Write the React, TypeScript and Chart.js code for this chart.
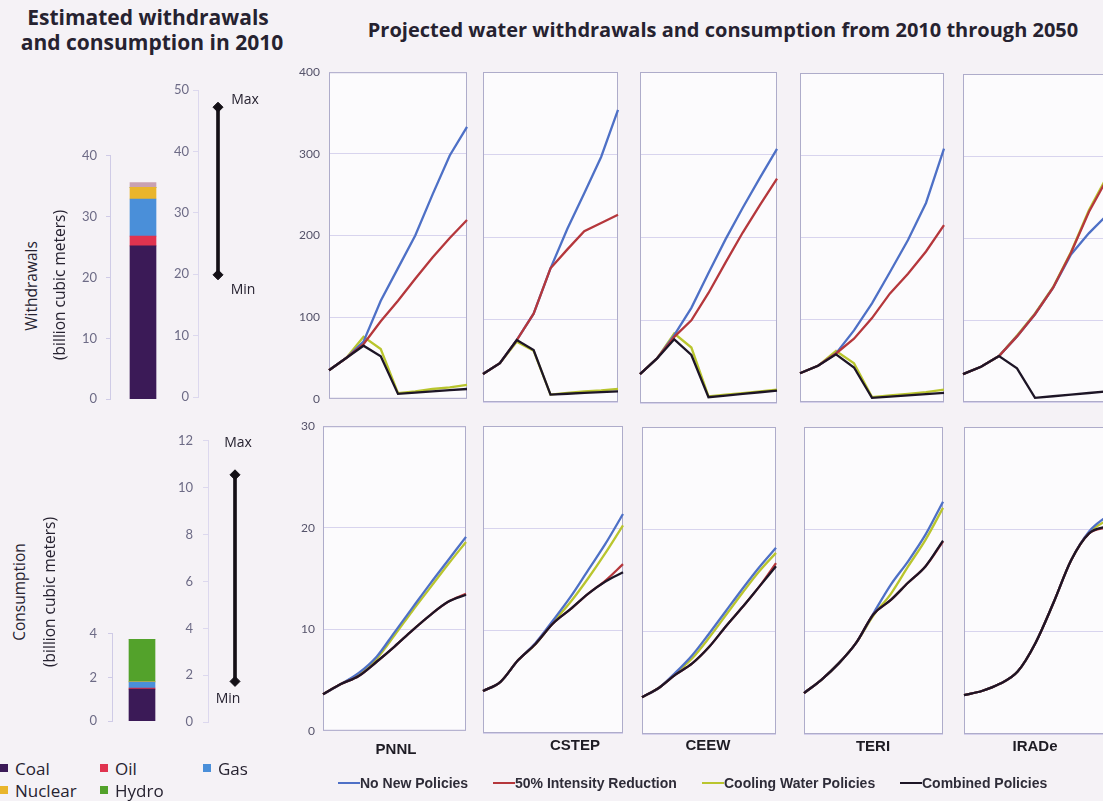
import React, { useEffect, useRef } from "react";
import { Chart, registerables } from "chart.js";

Chart.register(...registerables);

// ---------- DATA ----------
const years = ["2010", "2015", "2020", "2025", "2030", "2035", "2040", "2045", "2050"];
const models = ["PNNL", "CSTEP", "CEEW", "TERI", "IRADe"];
const scenarios = ["No New Policies", "50% Intensity Reduction", "Cooling Water Policies", "Combined Policies"];

// Withdrawals (billion m3), rows = models in the order above
const withdrawalNoNew = [
  [35, 50, 70, 120, 160, 200, 250, 298, 333],
  [34, 47, 75, 107, 162, 210, 253, 297, 354],
  [35, 54, 82, 115, 157, 198, 236, 272, 307],
  [35, 44, 59, 87, 120, 158, 197, 242, 308],
  [34, 43, 56, 80, 107, 139, 180, 206, 228],
];
const withdrawalIntensity = [
  [35, 50, 67, 95, 120, 147, 173, 197, 219],
  [34, 47, 75, 107, 162, 185, 207, 217, 227],
  [35, 54, 80, 100, 133, 170, 206, 239, 271],
  [35, 44, 59, 77, 102, 132, 156, 183, 215],
  [34, 43, 56, 80, 107, 139, 182, 232, 272],
];
const withdrawalCooling = [
  [35, 50, 76, 61, 7, 9, 12, 14, 17],
  [34, 47, 73, 62, 9, 11, 13, 14, 16],
  [35, 54, 84, 67, 8, 10, 12, 14, 16],
  [35, 44, 62, 47, 6, 8, 10, 12, 15],
  [34, 43, 56, 81, 108, 140, 183, 234, 275],
];
const withdrawalCombined = [
  [35, 50, 65, 52, 6, 7.5, 9, 10.5, 12],
  [34, 47, 75, 63, 9, 10, 11, 12, 13],
  [35, 54, 77, 58, 7, 9, 11, 13, 15],
  [35, 44, 58, 42, 5, 6.5, 8, 9.5, 11],
  [34, 43, 56, 41, 5, 7, 9, 11, 13],
];

// Consumption (billion m3)
const consumptionNoNew = [
  [3.6, 4.6, 5.7, 7.3, 9.7, 12.1, 14.5, 16.8, 19.1],
  [4.1, 5.0, 7.1, 8.8, 11.0, 13.3, 15.9, 18.5, 21.4],
  [3.6, 4.5, 6.0, 7.7, 9.8, 12.0, 14.2, 16.3, 18.2],
  [4.0, 5.3, 6.9, 8.9, 11.8, 14.6, 16.9, 19.5, 22.7],
  [3.8, 4.2, 4.9, 6.1, 8.9, 12.8, 17.0, 19.8, 21.3],
];
const consumptionIntensity = [
  [3.6, 4.6, 5.4, 6.8, 8.3, 9.9, 11.4, 12.7, 13.5],
  [4.1, 5.0, 7.1, 8.7, 10.7, 12.1, 13.6, 14.9, 16.5],
  [3.6, 4.5, 5.8, 6.9, 8.5, 10.5, 12.4, 14.4, 16.7],
  [4.0, 5.3, 6.9, 8.9, 11.7, 13.1, 14.8, 16.4, 18.8],
  [3.8, 4.2, 4.9, 6.1, 8.9, 12.8, 17.0, 19.6, 20.2],
];
const consumptionCooling = [
  [3.6, 4.6, 5.6, 7.1, 9.4, 11.8, 14.1, 16.4, 18.6],
  [4.1, 5.0, 7.1, 8.7, 10.8, 12.8, 15.1, 17.6, 20.3],
  [3.6, 4.5, 5.9, 7.4, 9.4, 11.6, 13.8, 15.9, 17.7],
  [4.0, 5.3, 6.9, 8.9, 11.6, 13.7, 16.4, 19.0, 22.1],
  [3.8, 4.2, 4.9, 6.1, 8.9, 12.8, 17.0, 19.7, 20.9],
];
const consumptionCombined = [
  [3.6, 4.6, 5.4, 6.8, 8.3, 9.9, 11.4, 12.7, 13.4],
  [4.1, 5.0, 7.1, 8.7, 10.7, 12.1, 13.6, 14.8, 15.7],
  [3.6, 4.5, 5.8, 6.9, 8.5, 10.5, 12.4, 14.4, 16.4],
  [4.0, 5.3, 6.9, 8.9, 11.7, 13.1, 14.8, 16.4, 18.9],
  [3.8, 4.2, 4.9, 6.1, 8.9, 12.8, 17.0, 19.6, 20.3],
];

// 2010 estimates by fuel
const barSegments = ["Coal", "Oil", "Gas", "Nuclear", "Hydro", "Other"];
const withdrawals2010 = [25.2, 1.6, 6.1, 1.9, 0, 0.8];
const consumption2010 = [1.47, 0.05, 0.27, 0.02, 1.94, 0];
const withdrawalRange = [19.9, 47.2]; // min, max
const consumptionRange = [1.74, 10.55];
const legendFuels = ["Coal", "Oil", "Gas", "Nuclear", "Hydro"];

// axis limits
const withdrawalBarMax = 40;
const withdrawalRangeMax = 50;
const consumptionBarMax = 4;
const consumptionRangeMax = 12;
const withdrawalPanelMax = 400;
const consumptionPanelMax = 30;

// ---------- STYLE / LAYOUT ----------
const segColors = ["#3b1a57", "#e0334f", "#4a8fd9", "#e9b52c", "#53a22b", "#c9a1b1"];
const scenarioColors = ["#4e70c6", "#b5373c", "#b9c52e", "#1d1526"];
const drawOrder = [2, 1, 3, 0];
const PAD = 14;
const tickColor = "#6d6b86";

type R = [number, number, number, number];
const topRects: R[] = [[329, 70, 467, 401], [483, 72, 618, 402], [640, 72, 777, 403], [800, 73, 944, 402], [963, 74, 1107, 402]];
const botRects: R[] = [[323, 425, 466, 732], [483, 426, 623, 733], [642, 427, 776, 734], [804, 427, 943, 734], [964, 427, 1107, 734]];
const labelPos = [[396, 748], [575, 744], [708, 744], [873, 745], [1035, 745]];

const boxes: { rect: R; padL: number }[] = [
  { rect: [110, 153, 176, 402], padL: 40 },
  { rect: [198, 90, 238, 397], padL: 30 },
  { rect: [112, 629, 172, 726], padL: 40 },
  { rect: [208, 437, 262, 726], padL: 30 },
  ...topRects.map((r) => ({ rect: r, padL: 40 })),
  ...botRects.map((r) => ({ rect: r, padL: 40 })),
];

const framePlugin = {
  id: "frame",
  beforeDraw(chart: any, _a: any, opts: any) {
    if (!opts || !opts.fill) return;
    const { ctx, chartArea: a } = chart;
    ctx.save();
    ctx.fillStyle = opts.fill;
    ctx.fillRect(a.left, a.top, a.right - a.left, a.bottom - a.top);
    ctx.restore();
  },
  beforeDatasetsDraw(chart: any, _a: any, opts: any) {
    if (!opts || !opts.stroke) return;
    const { ctx, chartArea: a } = chart;
    ctx.save();
    ctx.strokeStyle = opts.stroke;
    ctx.lineWidth = 1;
    ctx.strokeRect(a.left + 0.5, a.top + 0.5, a.right - a.left - 1, a.bottom - a.top - 1);
    ctx.restore();
  },
};

// The y axis box fills the whole left padding so its labels are not clipped.
function baseOptions() {
  return {
    animation: false,
    responsive: false,
    layout: { padding: { left: 0, right: PAD, top: PAD, bottom: PAD } },
    plugins: { legend: { display: false }, tooltip: { enabled: false } },
  };
}

function barConfig(values: number[], max: number, step: number, padL: number, tickPad: number) {
  return {
    type: "bar",
    data: {
      labels: ["2010"],
      datasets: barSegments.map((name, i) => ({
        label: name,
        data: [values[i]],
        backgroundColor: segColors[i],
        barThickness: 26,
        borderWidth: 0,
      })),
    },
    options: {
      ...baseOptions(),
      scales: {
        x: { stacked: true, display: false },
        y: {
          stacked: true,
          min: 0,
          max,
          ticks: { stepSize: step, padding: tickPad, color: tickColor, font: { family: "Lato", size: 13 } },
          grid: { drawOnChartArea: false, tickLength: 4, color: "#cfcbe6" },
          border: { color: "#cfcbe6" },
          afterFit: (s: any) => { s.width = padL; },
        },
      },
    },
  };
}

function rangeConfig(range: number[], max: number, step: number, padL: number, tickPad: number) {
  return {
    type: "bar",
    data: {
      labels: ["range"],
      datasets: [
        { type: "line", data: [range[0]], pointStyle: "rectRot", pointRadius: 5, pointBackgroundColor: "#141016", pointBorderColor: "#141016", showLine: false, order: 0 },
        { type: "line", data: [range[1]], pointStyle: "rectRot", pointRadius: 5, pointBackgroundColor: "#141016", pointBorderColor: "#141016", showLine: false, order: 0 },
        { type: "bar", data: [[range[0], range[1]]], backgroundColor: "#141016", barThickness: 3, borderWidth: 0, order: 1 },
      ],
    },
    options: {
      ...baseOptions(),
      scales: {
        x: { display: false, offset: true },
        y: {
          min: 0,
          max,
          ticks: { stepSize: step, padding: tickPad, color: tickColor, font: { family: "Lato", size: 13 } },
          grid: { drawOnChartArea: false, tickLength: 5, color: "#dcd8ee" },
          border: { color: "#dcd8ee" },
          afterFit: (s: any) => { s.width = padL; },
        },
      },
    },
  };
}

function panelConfig(groups: number[][][], m: number, max: number, step: number, showTicks: boolean, tickPad: number, smooth: boolean) {
  return {
    type: "line",
    data: {
      labels: years,
      datasets: groups.map((g, s) => ({
        label: scenarios[s],
        data: g[m],
        borderColor: scenarioColors[s],
        backgroundColor: scenarioColors[s],
        borderWidth: 2.3,
        pointRadius: 0,
        fill: false,
        order: drawOrder[s],
        tension: 0,
        cubicInterpolationMode: smooth ? "monotone" : "default",
      })),
    },
    options: {
      ...baseOptions(),
      plugins: {
        legend: { display: false },
        tooltip: { enabled: false },
        frame: { fill: "#fcfbfd", stroke: "#aeacca" },
      },
      scales: {
        x: { display: false, offset: false },
        y: {
          min: 0,
          max,
          ticks: { stepSize: step, display: showTicks, padding: tickPad, color: "#55536a", font: { family: "Lato", size: 12 } },
          grid: { color: "rgba(185,180,225,0.55)", drawTicks: false },
          border: { display: false },
          afterFit: (s: any) => { s.width = 40; },
        },
      },
    },
    plugins: [framePlugin],
  };
}

const txt = (x: number, y: number, text: string, font: string, extra: any = {}) => (
  <div
    style={{
      position: "absolute",
      left: x,
      top: y,
      font,
      color: "#262230",
      whiteSpace: "nowrap",
      lineHeight: 1,
      transform: "translate(-50%,-50%)",
      ...extra,
    }}
  >
    {text}
  </div>
);

export default function App() {
  const refs = useRef<(HTMLCanvasElement | null)[]>([]);

  useEffect(() => {
    const c = refs.current;
    const charts: Chart[] = [];
    const mk = (i: number, cfg: any) => { if (c[i]) charts.push(new Chart(c[i] as HTMLCanvasElement, cfg)); };
    mk(0, barConfig(withdrawals2010, withdrawalBarMax, 10, 40, 9));
    mk(1, rangeConfig(withdrawalRange, withdrawalRangeMax, 10, 30, 4));
    mk(2, barConfig(consumption2010, consumptionBarMax, 2, 40, 11));
    mk(3, rangeConfig(consumptionRange, consumptionRangeMax, 2, 30, 10));
    const wGroups = [withdrawalNoNew, withdrawalIntensity, withdrawalCooling, withdrawalCombined];
    const cGroups = [consumptionNoNew, consumptionIntensity, consumptionCooling, consumptionCombined];
    models.forEach((_, m) => {
      mk(4 + m, panelConfig(wGroups, m, withdrawalPanelMax, 100, m === 0, 9, false));
      mk(9 + m, panelConfig(cGroups, m, consumptionPanelMax, 10, m === 0, 8, true));
    });
    return () => charts.forEach((ch) => ch.destroy());
  }, []);

  const titleFont = 'bold 21px "Open Sans"';
  const axisFont = '15.5px "Open Sans"';
  const legFont = '17px "Open Sans"';
  const lineLeg = 'bold 14px "Liberation Sans"';

  return (
    <div style={{ position: "absolute", left: 0, top: 0, width: 1103, height: 801, overflow: "hidden", background: "#f5f2f6" }}>
      {boxes.map((b, i) => {
        const [l, t, r, btm] = b.rect;
        const w = r - l + b.padL + PAD;
        const h = btm - t + 2 * PAD;
        return (
          <canvas
            key={i}
            ref={(el) => { refs.current[i] = el; }}
            width={w}
            height={h}
            style={{ position: "absolute", left: l - b.padL, top: t - PAD, width: w, height: h }}
          />
        );
      })}

      {txt(148, 17, "Estimated withdrawals", titleFont)}
      {txt(152, 42, "and consumption in 2010", titleFont)}
      {txt(723, 30, "Projected water withdrawals and consumption from 2010 through 2050", 'bold 20px "Open Sans"')}

      {txt(32, 286, "Withdrawals", axisFont, { transform: "translate(-50%,-50%) rotate(-90deg)" })}
      {txt(60, 285, "(billion cubic meters)", axisFont, { transform: "translate(-50%,-50%) rotate(-90deg)" })}
      {txt(20, 592, "Consumption", axisFont, { transform: "translate(-50%,-50%) rotate(-90deg)" })}
      {txt(50, 592, "(billion cubic meters)", axisFont, { transform: "translate(-50%,-50%) rotate(-90deg)" })}

      {txt(245, 99, "Max", '14px "Open Sans"')}
      {txt(243, 289, "Min", '14px "Open Sans"')}
      {txt(238, 442, "Max", '14px "Open Sans"')}
      {txt(228, 698, "Min", '14px "Open Sans"')}

      {models.map((m, i) => (
        <React.Fragment key={m}>{txt(labelPos[i][0], labelPos[i][1], m, 'bold 15px "Liberation Sans"', { color: "#1e1c24" })}</React.Fragment>
      ))}

      {legendFuels.map((f, i) => {
        const col = i % 3;
        const row = Math.floor(i / 3);
        const x = [0, 100, 203][col];
        const y = [768, 790][row];
        return (
          <React.Fragment key={f}>
            <div style={{ position: "absolute", left: x, top: y - 4, width: 8, height: 8, background: segColors[i] }} />
            {txt(x + 15, y, f, legFont, { transform: "translate(0,-50%)" })}
          </React.Fragment>
        );
      })}

      {scenarios.map((s, i) => {
        const x = [338, 493, 702, 900][i];
        return (
          <React.Fragment key={s}>
            <div style={{ position: "absolute", left: x, top: 782, width: 22, height: 2, background: scenarioColors[i] }} />
            {txt(x + 22, 783, s, lineLeg, { transform: "translate(0,-50%)", color: "#2e2c38" })}
          </React.Fragment>
        );
      })}
    </div>
  );
}
